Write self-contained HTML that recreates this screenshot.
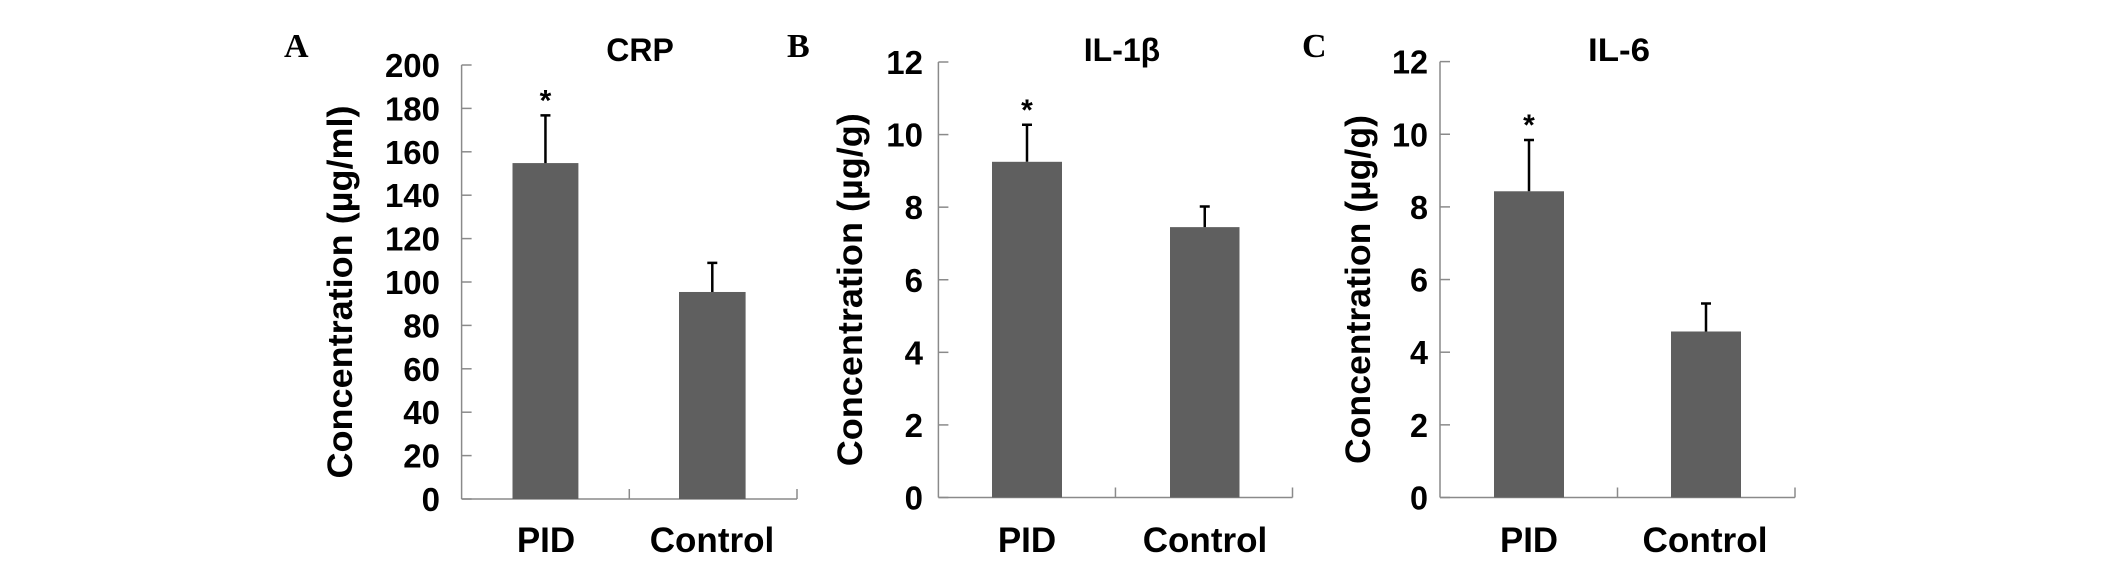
<!DOCTYPE html>
<html><head><meta charset="utf-8"><style>
html,body{margin:0;padding:0;background:#fff;}
svg{display:block;}
text{font-family:"Liberation Sans",Arial,sans-serif;font-weight:bold;fill:#000;}
.pl{font-family:"Liberation Serif",serif;}
</style></head><body>
<svg id="fig" width="2126" height="562" viewBox="0 0 2126 562" xmlns="http://www.w3.org/2000/svg"></svg>
<script>
const categories = ["PID", "Control"];
const crpValues = [154.8, 95.4];
const crpErrors = [22, 13.4];
const il1bValues = [9.25, 7.45];
const il1bErrors = [1.02, 0.57];
const il6Values = [8.43, 4.57];
const il6Errors = [1.41, 0.77];
const crpTicks = [0, 20, 40, 60, 80, 100, 120, 140, 160, 180, 200];
const ilTicks = [0, 2, 4, 6, 8, 10, 12];
const significant = [true, false];

const NS = "http://www.w3.org/2000/svg";
const svg = document.getElementById("fig");
function mk(tag, attrs, parent, txt){
  const e = document.createElementNS(NS, tag);
  for (const k in attrs) e.setAttribute(k, attrs[k]);
  if (txt !== undefined) e.textContent = txt;
  (parent || svg).appendChild(e);
  return e;
}

const panels = [
  {id:"crp", letter:"A", title:"CRP", unit:"Concentration (µg/ml)", values:crpValues, errors:crpErrors, ticks:crpTicks, max:200,
   ax:461.6, axEnd:797, top:65, base:499, bars:[[512.5,578.4],[679,745.6]], letterX:284, labelRight:440, titleX:640,
   yTitleX:340, yTitleLen:373, xLab:[546,712], condensed:false},
  {id:"il1b", letter:"B", title:"IL-1β", unit:"Concentration (µg/g)", values:il1bValues, errors:il1bErrors, ticks:ilTicks, max:12,
   ax:938.4, axEnd:1292.5, top:62, base:497.5, bars:[[992,1062],[1170,1239.5]], letterX:787, labelRight:923, titleX:1122,
   yTitleX:850, yTitleLen:353, xLab:[1027,1205], condensed:false},
  {id:"il6", letter:"C", title:"IL-6", unit:"Concentration (µg/g)", values:il6Values, errors:il6Errors, ticks:ilTicks, max:12,
   ax:1440, axEnd:1795, top:61.6, base:497.5, bars:[[1494,1564],[1671,1741]], letterX:1302, labelRight:1428, titleX:1619,
   yTitleX:1358, yTitleLen:349, xLab:[1529,1705], condensed:true}
];

panels.forEach(p => {
  const g = mk("g", {});
  
  
  const y = v => p.base - (v / p.max) * (p.base - p.top);

  const L = mk("text", {x:p.letterX, y:57, class:"pl", "font-size":34}, g, p.letter);
  
  

  const t = mk("text", {x:p.titleX, y:61, "text-anchor":"middle", "font-size":32}, g, p.title);
  if (p.condensed) { t.setAttribute("textLength", 62); t.setAttribute("lengthAdjust", "spacingAndGlyphs"); }
  
  

  const ya = mk("line", {x1:p.ax, y1:p.top, x2:p.ax, y2:p.base, stroke:"#8a8a8a", "stroke-width":1.5}, g);
  
  
  const xa = mk("line", {x1:p.ax, y1:p.base, x2:p.axEnd, y2:p.base, stroke:"#8a8a8a", "stroke-width":1.5}, g);
  
  
  const mid = (p.ax + p.axEnd) / 2;
  [mid, p.axEnd].forEach(xx => {
    const tk = mk("line", {x1:xx, y1:p.base, x2:xx, y2:p.base - 10, stroke:"#8a8a8a", "stroke-width":1.5}, g);
    
    
  });

  p.ticks.forEach(v => {
    const yy = y(v);
    const tk = mk("line", {x1:p.ax, y1:yy, x2:p.ax + 10, y2:yy, stroke:"#8a8a8a", "stroke-width":1.5}, g);
    
    
    const lb = mk("text", {x:p.labelRight, y:yy + 12, "text-anchor":"end", "font-size":33}, g, String(v));
    if (p.condensed) { lb.setAttribute("textLength", String(v).length * 18); lb.setAttribute("lengthAdjust", "spacingAndGlyphs"); }
    
    
  });

  const yt = mk("text", {x:0, y:0, "text-anchor":"middle", "font-size":35,
    transform:`translate(${p.yTitleX + 12},${(p.top + p.base) / 2 + 10}) rotate(-90)`,
    textLength:p.yTitleLen, lengthAdjust:"spacingAndGlyphs"}, g, p.unit);
  
  

  categories.forEach((c, i) => {
    const [x0, x1] = p.bars[i];
    const cx = (x0 + x1) / 2;
    const yv = y(p.values[i]);
    const b = mk("rect", {x:x0, y:yv, width:x1 - x0, height:p.base - yv, fill:"#5f5f5f"}, g);
    
    
    const ye = y(p.values[i] + p.errors[i]);
    const eb = mk("path", {d:`M${cx},${yv} V${ye} M${cx - 5},${ye} H${cx + 5}`, stroke:"#000", "stroke-width":2.5, fill:"none"}, g);
    
    
    if (significant[i]) {
      const s = mk("text", {x:cx, y:ye - 5, "text-anchor":"middle", "font-size":30}, g, "*");
      
      
    }
    const xl = mk("text", {x:p.xLab[i], y:552, "text-anchor":"middle", "font-size":35}, g, c);
    if (p.condensed) { xl.setAttribute("textLength", c === "PID" ? 58 : 125); xl.setAttribute("lengthAdjust", "spacingAndGlyphs"); }
    
    
  });
});
</script>
</body></html>
